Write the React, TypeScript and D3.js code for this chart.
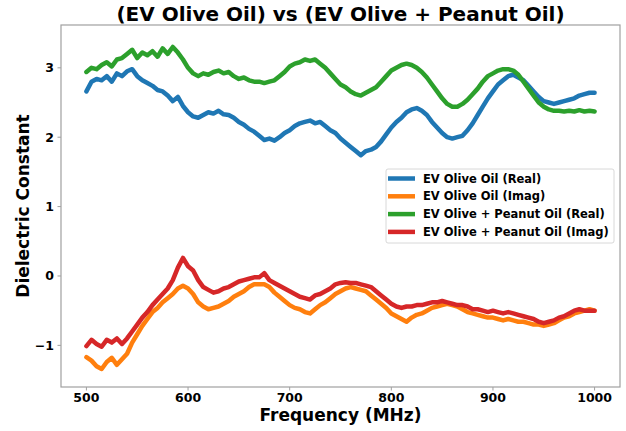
import React from "react";
import * as d3 from "d3";

const freqs: number[] = d3.range(500, 1001, 5);

const oliveReal: number[] = [
  2.66, 2.80, 2.84, 2.82, 2.88, 2.80, 2.92, 2.88, 2.95, 2.98,
  2.88, 2.82, 2.78, 2.74, 2.68, 2.66, 2.60, 2.52, 2.58, 2.45,
  2.36, 2.30, 2.28, 2.32, 2.36, 2.34, 2.38, 2.33, 2.32, 2.28,
  2.22, 2.18, 2.12, 2.08, 2.02, 1.96, 1.98, 1.95, 2.00, 2.06,
  2.10, 2.16, 2.20, 2.22, 2.24, 2.20, 2.22, 2.16, 2.10, 2.06,
  1.98, 1.92, 1.86, 1.80, 1.74, 1.80, 1.82, 1.86, 1.94, 2.04,
  2.14, 2.22, 2.28, 2.36, 2.40, 2.42, 2.38, 2.32, 2.22, 2.14,
  2.06, 2.00, 1.98, 2.00, 2.02, 2.10, 2.20, 2.32, 2.44, 2.56,
  2.66, 2.76, 2.82, 2.88, 2.90, 2.86, 2.82, 2.74, 2.66, 2.58,
  2.52, 2.50, 2.48, 2.50, 2.52, 2.54, 2.56, 2.60, 2.62, 2.64,
  2.64,
];

const oliveImag: number[] = [
  -1.17, -1.22, -1.30, -1.34, -1.24, -1.18, -1.28, -1.20, -1.12, -0.96,
  -0.84, -0.72, -0.62, -0.52, -0.46, -0.38, -0.32, -0.26, -0.18, -0.14,
  -0.18, -0.26, -0.38, -0.44, -0.48, -0.46, -0.44, -0.40, -0.36, -0.30,
  -0.26, -0.22, -0.16, -0.12, -0.12, -0.12, -0.16, -0.24, -0.30, -0.36,
  -0.42, -0.46, -0.48, -0.52, -0.54, -0.48, -0.42, -0.38, -0.32, -0.26,
  -0.22, -0.18, -0.16, -0.18, -0.20, -0.22, -0.28, -0.34, -0.40, -0.46,
  -0.54, -0.58, -0.62, -0.66, -0.60, -0.56, -0.54, -0.50, -0.46, -0.44,
  -0.42, -0.40, -0.42, -0.44, -0.48, -0.52, -0.54, -0.56, -0.58, -0.60,
  -0.60, -0.62, -0.64, -0.62, -0.64, -0.66, -0.66, -0.68, -0.70, -0.70,
  -0.72, -0.70, -0.68, -0.64, -0.60, -0.58, -0.54, -0.52, -0.50, -0.48,
  -0.50,
];

const peanutReal: number[] = [
  2.94, 3.00, 2.98, 3.04, 3.08, 3.02, 3.12, 3.14, 3.20, 3.26,
  3.14, 3.22, 3.18, 3.24, 3.16, 3.28, 3.20, 3.30, 3.22, 3.12,
  3.00, 2.92, 2.88, 2.92, 2.90, 2.94, 2.96, 2.92, 2.94, 2.88,
  2.84, 2.86, 2.82, 2.80, 2.80, 2.78, 2.80, 2.82, 2.88, 2.94,
  3.02, 3.06, 3.08, 3.12, 3.10, 3.12, 3.06, 3.00, 2.92, 2.84,
  2.76, 2.72, 2.66, 2.62, 2.60, 2.64, 2.68, 2.72, 2.80, 2.88,
  2.96, 3.00, 3.04, 3.06, 3.04, 3.00, 2.94, 2.86, 2.76, 2.66,
  2.56, 2.48, 2.44, 2.44, 2.48, 2.54, 2.62, 2.70, 2.80, 2.88,
  2.92, 2.96, 2.98, 2.98, 2.96, 2.90, 2.80, 2.70, 2.60, 2.50,
  2.44, 2.40, 2.38, 2.38, 2.37, 2.38, 2.37, 2.39, 2.37, 2.38,
  2.37,
];

const peanutImag: number[] = [
  -1.01, -0.92, -0.98, -1.02, -0.92, -0.96, -0.90, -0.98, -0.90, -0.80,
  -0.70, -0.60, -0.52, -0.42, -0.34, -0.26, -0.18, -0.06, 0.12, 0.26,
  0.14, 0.08, -0.06, -0.16, -0.20, -0.24, -0.22, -0.18, -0.16, -0.12,
  -0.08, -0.06, -0.04, -0.02, -0.02, 0.04, -0.06, -0.10, -0.14, -0.18,
  -0.22, -0.26, -0.30, -0.32, -0.34, -0.28, -0.26, -0.22, -0.18, -0.12,
  -0.10, -0.09, -0.10, -0.10, -0.12, -0.14, -0.16, -0.22, -0.28, -0.34,
  -0.40, -0.44, -0.46, -0.44, -0.44, -0.42, -0.42, -0.40, -0.38, -0.38,
  -0.36, -0.38, -0.40, -0.42, -0.42, -0.44, -0.48, -0.48, -0.50, -0.52,
  -0.50, -0.52, -0.54, -0.52, -0.54, -0.56, -0.58, -0.60, -0.62, -0.66,
  -0.68, -0.66, -0.64, -0.60, -0.58, -0.54, -0.50, -0.48, -0.50, -0.50,
  -0.50,
];

const seriesNames: string[] = [
  "EV Olive Oil (Real)",
  "EV Olive Oil (Imag)",
  "EV Olive + Peanut Oil (Real)",
  "EV Olive + Peanut Oil (Imag)",
];
const seriesColors: string[] = ["#1f77b4", "#ff7f0e", "#2ca02c", "#d62728"];
const xTicks: number[] = [500, 600, 700, 800, 900, 1000];
const yTicks: number[] = [-1, 0, 1, 2, 3];

const W = 626;
const H = 431;
const M = { left: 61, right: 620, top: 25, bottom: 387 };
const FONT = "'DejaVu Sans', sans-serif";

export default function App() {
  const x = d3.scaleLinear().domain([475, 1025]).range([M.left, M.right]);
  const y = d3.scaleLinear().domain([-1.6, 3.617]).range([M.bottom, M.top]);
  const line = d3
    .line<[number, number]>()
    .x((d) => x(d[0]))
    .y((d) => y(d[1]))
    .curve(d3.curveLinear);
  const allSeries = [oliveReal, oliveImag, peanutReal, peanutImag];

  const lgX = 386;
  const lgY = 169;
  const lgW = 228;
  const lgH = 74;
  const rowH = 17.8;

  return (
    <svg
      width={W}
      height={H}
      style={{ position: "absolute", left: 0, top: 0, background: "#fff" }}
      fontFamily={FONT}
    >
      <rect x={0} y={0} width={W} height={H} fill="#fff" />
      {allSeries.map((vals, i) => (
        <path
          key={i}
          d={line(freqs.map((f, j) => [f, vals[j]] as [number, number])) || ""}
          fill="none"
          stroke={seriesColors[i]}
          strokeWidth={4.5}
          strokeLinejoin="round"
          strokeLinecap="round"
        />
      ))}
      <rect
        x={M.left}
        y={M.top}
        width={M.right - M.left}
        height={M.bottom - M.top}
        fill="none"
        stroke="#a0a0a0"
        strokeWidth={1.2}
      />
      {xTicks.map((t) => (
        <g key={t}>
          <line x1={x(t)} x2={x(t)} y1={M.bottom} y2={M.bottom + 3.5} stroke="#a0a0a0" />
          <text
            x={x(t)}
            y={M.bottom + 15}
            textAnchor="middle"
            fontSize={12.5}
            fontWeight="bold"
          >
            {t}
          </text>
        </g>
      ))}
      {yTicks.map((t) => (
        <g key={t}>
          <line x1={M.left - 3.5} x2={M.left} y1={y(t)} y2={y(t)} stroke="#a0a0a0" />
          <text
            x={M.left - 7}
            y={y(t)}
            dy="0.36em"
            textAnchor="end"
            fontSize={12.5}
            fontWeight="bold"
          >
            {t < 0 ? "\u2212" + Math.abs(t) : t}
          </text>
        </g>
      ))}
      <text
        x={(M.left + M.right) / 2}
        y={20.5}
        textAnchor="middle"
        fontSize={20}
        fontWeight="bold"
      >
        (EV Olive Oil) vs (EV Olive + Peanut Oil)
      </text>
      <text
        x={(M.left + M.right) / 2}
        y={420.5}
        textAnchor="middle"
        fontSize={17}
        fontWeight="bold"
      >
        Frequency (MHz)
      </text>
      <text
        transform={`translate(29,${(M.top + M.bottom) / 2}) rotate(-90)`}
        textAnchor="middle"
        fontSize={17}
        fontWeight="bold"
      >
        Dielectric Constant
      </text>
      <g>
        <rect
          x={lgX}
          y={lgY}
          width={lgW}
          height={lgH}
          rx={2}
          fill="#fff"
          fillOpacity={0.8}
          stroke="#d8d8d8"
        />
        {seriesNames.map((n, i) => (
          <g key={n}>
            <line
              x1={lgX + 2}
              x2={lgX + 29}
              y1={lgY + 9.5 + i * rowH}
              y2={lgY + 9.5 + i * rowH}
              stroke={seriesColors[i]}
              strokeWidth={4.5}
            />
            <text
              x={lgX + 37}
              y={lgY + 9.5 + i * rowH}
              dy="0.36em"
              fontSize={11.5}
              fontWeight="bold"
            >
              {n}
            </text>
          </g>
        ))}
      </g>
    </svg>
  );
}
